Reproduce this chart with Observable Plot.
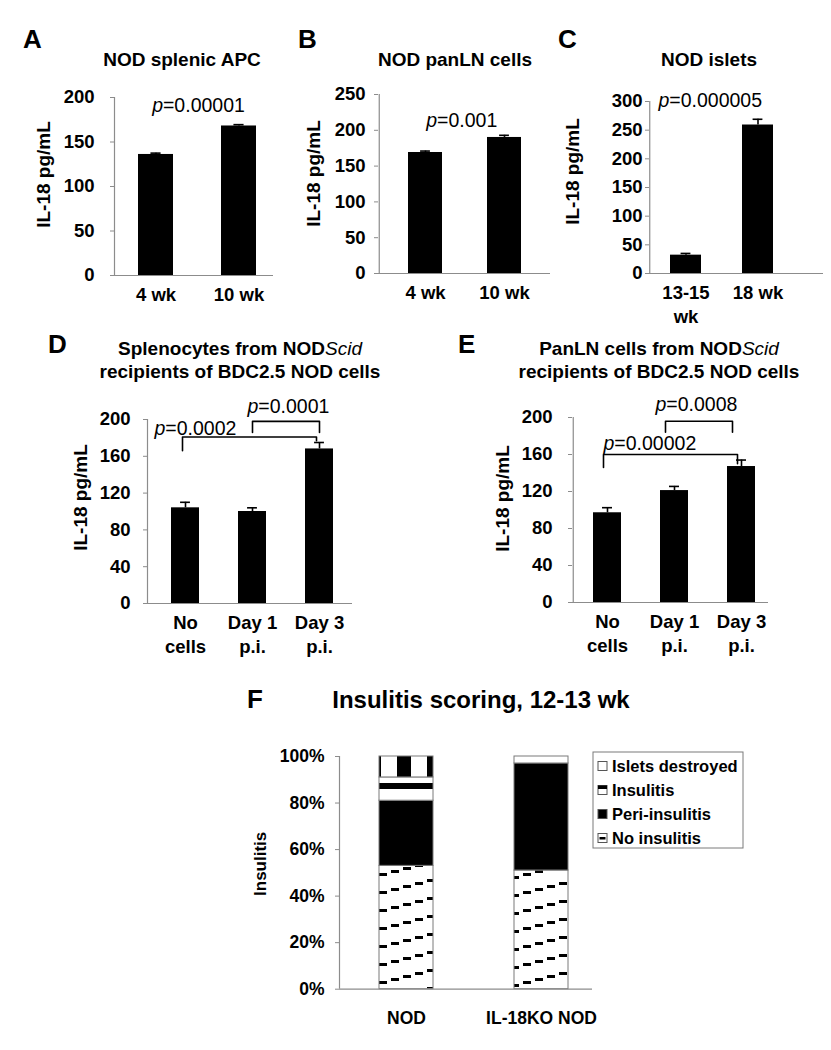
<!DOCTYPE html>
<html><head><meta charset="utf-8">
<script src="https://cdn.jsdelivr.net/npm/d3@7"></script>
<script src="https://cdn.jsdelivr.net/npm/@observablehq/plot@0.6"></script>
<style>
html,body{margin:0;padding:0;background:#fff;}
#chart{position:relative;width:831px;height:1050px;overflow:hidden;font-family:"Liberation Sans",Arial,sans-serif;}
#chart svg{position:absolute;left:0;top:0;}
</style></head><body><div id="chart"></div>
<script>
// ---------------- DATA ----------------
const catsA = ["4 wk", "10 wk"];
const valuesA = [136, 168];
const errorsA = [1.5, 1.5];
const pA = {label: "p=0.00001", y: 191};

const catsB = ["4 wk", "10 wk"];
const valuesB = [169, 190];
const errorsB = [2, 3];
const pB = {label: "p=0.001", y: 214};

const catsC = ["13-15\nwk", "18 wk"];
const valuesC = [32, 259];
const errorsC = [3, 10];
const pC = {label: "p=0.000005", y: 302};

const catsDE = ["No\ncells", "Day 1\np.i.", "Day 3\np.i."];
const valuesD = [104, 100, 168];
const errorsD = [6, 4, 7];
const bracketsD = [
  {from: "No\ncells", to: "Day 3\np.i.", level: 181, fromEnd: 166, toEnd: 177, label: "p=0.0002", labelY: 190},
  {from: "Day 1\np.i.", to: "Day 3\np.i.", level: 198, fromEnd: 186, toEnd: 186, label: "p=0.0001", labelY: 214}
];
const valuesE = [97, 121, 147];
const errorsE = [5.5, 4.5, 7];
const bracketsE = [
  {from: "No\ncells", to: "Day 3\np.i.", level: 160, fromEnd: 146, toEnd: 150, label: "p=0.00002", labelY: 172},
  {from: "Day 1\np.i.", to: "Day 3\np.i.", level: 196, fromEnd: 184, toEnd: 184, label: "p=0.0008", labelY: 214}
];

const ticks200by50 = [0, 50, 100, 150, 200];
const ticks250 = [0, 50, 100, 150, 200, 250];
const ticks300 = [0, 50, 100, 150, 200, 250, 300];
const ticks200by40 = [0, 40, 80, 120, 160, 200];

const fGroups = ["NOD", "IL-18KO NOD"];
const fSegments = ["No insulitis", "Peri-insulitis", "Insulitis", "Islets destroyed"];
const fNOD = [53, 28, 10, 9];
const fKO = [51, 46, 3, 0];
const fTicks = [0, 20, 40, 60, 80, 100];
const legendOrder = ["Islets destroyed", "Insulitis", "Peri-insulitis", "No insulitis"];

// ---------------- LAYOUT / STYLE ----------------
const W = 831, H = 1050;
const AXIS = "#8c8c8c";
const FONT = '"Liberation Sans", Arial, sans-serif';
const NS = "http://www.w3.org/2000/svg";
const chart = document.getElementById("chart");

function italicP(svg) {
  svg.querySelectorAll("text").forEach(t => {
    if (t.children.length === 0 && /^p=/.test(t.textContent)) {
      const rest = t.textContent.slice(1);
      t.textContent = "";
      const a = document.createElementNS(NS, "tspan");
      a.setAttribute("font-style", "italic");
      a.textContent = "p";
      const b = document.createElementNS(NS, "tspan");
      b.textContent = rest;
      t.append(a, b);
    }
  });
}

function barPanel(cfg) {
  const rows = cfg.cats.map((c, i) => ({cat: c, value: cfg.values[i], err: cfg.errors[i]}));
  const n = cfg.cats.length;
  const step = (cfg.xRange[1] - cfg.xRange[0]) / n;
  const bw = step * (1 - cfg.padInner);
  const firstCenter = cfg.xRange[0] + step / 2;
  const capInset = (bw - cfg.capWidth) / 2;
  const f = cfg.frame;
  const marks = [
    Plot.barY(rows, {x: "cat", y: "value", fill: "black"}),
    Plot.ruleX(rows, {x: "cat", y1: "value", y2: d => d.value + d.err, stroke: "black", strokeWidth: 1.6}),
    Plot.tickY(rows, {x: "cat", y: d => d.value + d.err, stroke: "black", strokeWidth: 1.6, insetLeft: capInset, insetRight: capInset}),
    Plot.ruleY([0], {stroke: AXIS, strokeWidth: 1.2}),
    Plot.ruleX([cfg.cats[0]], {y1: 0, y2: cfg.yMax, stroke: AXIS, strokeWidth: 1.2, dx: f.l - firstCenter}),
    Plot.axisY({ticks: cfg.yTicks, tickSize: 4, tickPadding: cfg.yTickPad, stroke: AXIS, fill: "black",
      fontSize: 18.5, fontWeight: "bold", label: null}),
    Plot.axisX({tickSize: 0, tickPadding: cfg.xTickPad, fill: "black", fontSize: 18.5,
      fontWeight: "bold", label: null, lineHeight: 1.27}),
    Plot.text([cfg.yLabel], {frameAnchor: "left", textAnchor: "middle", rotate: -90, dx: cfg.yLabelDx, dy: cfg.yLabelDy,
      fontSize: 19, fontWeight: "bold", fill: "black"})
  ];
  if (cfg.p) {
    marks.push(Plot.text([cfg.p], {x: () => cfg.cats[1], y: d => d.y, text: d => d.label,
      dx: cfg.pDx, fontSize: 19.5, fill: "black"}));
  }
  if (cfg.brackets) {
    cfg.brackets.forEach((b, i) => {
      const pts = [
        {x: b.from, y: b.fromEnd}, {x: b.from, y: b.level},
        {x: b.to, y: b.level}, {x: b.to, y: b.toEnd}
      ];
      marks.push(Plot.line(pts, {x: "x", y: "y", stroke: "black", strokeWidth: 1.6, dx: cfg.bracketDx[i]}));
      marks.push(Plot.text([b], {x: d => d.from, y: d => d.labelY, text: d => d.label, textAnchor: "start",
        dx: cfg.labelDx[i], fontSize: 19.5, fill: "black"}));
    });
  }
  const svg = Plot.plot({
    width: W, height: H,
    marginLeft: f.l, marginRight: W - f.r, marginTop: f.t, marginBottom: H - f.b,
    style: {background: "none", overflow: "visible", fontFamily: FONT, maxWidth: "none"},
    x: {domain: cfg.cats, range: cfg.xRange, paddingInner: cfg.padInner, paddingOuter: cfg.padInner / 2},
    y: {domain: [0, cfg.yMax]},
    marks
  });
  italicP(svg);
  chart.appendChild(svg);
}

barPanel({cats: catsA, values: valuesA, errors: errorsA, yMax: 200, yTicks: ticks200by50,
  frame: {l: 114, r: 273, t: 97, b: 275}, xRange: [114, 280], padInner: 0.58, capWidth: 10,
  yTickPad: 16, xTickPad: 9, yLabel: "IL-18 pg/mL", yLabelDx: -71, yLabelDy: -12, p: pA, pDx: -40.5});

barPanel({cats: catsB, values: valuesB, errors: errorsB, yMax: 250, yTicks: ticks250,
  frame: {l: 378, r: 550, t: 94, b: 273}, xRange: [384.5, 543.5], padInner: 0.57, capWidth: 10,
  yTickPad: 9, xTickPad: 9, yLabel: "IL-18 pg/mL", yLabelDx: -65, yLabelDy: -10.5, p: pB, pDx: -42.75});

barPanel({cats: catsC, values: valuesC, errors: errorsC, yMax: 300, yTicks: ticks300,
  frame: {l: 649, r: 823, t: 101, b: 273}, xRange: [649, 794], padInner: 0.57, capWidth: 10,
  yTickPad: 3, xTickPad: 9, yLabel: "IL-18 pg/mL", yLabelDx: -77, yLabelDy: -16, p: pC, pDx: -47.75});

barPanel({cats: catsDE, values: valuesD, errors: errorsD, yMax: 200, yTicks: ticks200by40,
  frame: {l: 147, r: 352, t: 419, b: 603}, xRange: [151.5, 352.5], padInner: 0.58, capWidth: 10,
  yTickPad: 13, xTickPad: 9, yLabel: "IL-18 pg/mL", yLabelDx: -67, yLabelDy: -14,
  brackets: bracketsD, bracketDx: [-3, 0], labelDx: [-31, -5]});

barPanel({cats: catsDE, values: valuesE, errors: errorsE, yMax: 200, yTicks: ticks200by40,
  frame: {l: 572, r: 768, t: 417, b: 602}, xRange: [572.5, 775], padInner: 0.585, capWidth: 10,
  yTickPad: 16, xTickPad: 9, yLabel: "IL-18 pg/mL", yLabelDx: -70, yLabelDy: -11.5,
  brackets: bracketsE, bracketDx: [-4, -9], labelDx: [-4, -19]});

// ---------------- PANEL F ----------------
const patternFor = {
  "No insulitis": "url(#pat-no)",
  "Peri-insulitis": "black",
  "Insulitis": "url(#pat-ins)",
  "Islets destroyed": "url(#pat-des)"
};
const fRows = [];
fGroups.forEach((g, gi) => {
  const vals = gi === 0 ? fNOD : fKO;
  fSegments.forEach((s, si) => fRows.push({group: g, seg: s, value: vals[si]}));
});
{
  const f = {l: 339, r: 592, t: 756, b: 988.7};
  const xRange = [338.5, 608.5];
  const step = (xRange[1] - xRange[0]) / fGroups.length;
  const firstCenter = xRange[0] + step / 2;
  const svg = Plot.plot({
    width: W, height: H,
    marginLeft: f.l, marginRight: W - f.r, marginTop: f.t, marginBottom: H - f.b,
    style: {background: "none", overflow: "visible", fontFamily: FONT, maxWidth: "none"},
    x: {domain: fGroups, range: xRange, paddingInner: 0.6, paddingOuter: 0.3},
    y: {domain: [0, 100]},
    color: {type: "identity"},
    marks: [
      Plot.barY(fRows, {x: "group", y: "value", fill: d => patternFor[d.seg], stroke: "#7a7a7a", strokeWidth: 1}),
      Plot.ruleY([0], {stroke: AXIS, strokeWidth: 1.2}),
      Plot.ruleX([fGroups[0]], {y1: 0, y2: 100, stroke: AXIS, strokeWidth: 1.2, dx: f.l - firstCenter}),
      Plot.axisY({ticks: fTicks, tickSize: 4, tickPadding: 11, stroke: AXIS, fill: "black",
        fontSize: 17.5, fontWeight: "bold", label: null, tickFormat: d => d + "%"}),
      Plot.axisX({tickSize: 0, tickPadding: 22, fill: "black", fontSize: 17.5, fontWeight: "bold", label: null}),
      Plot.text(["Insulitis"], {frameAnchor: "left", textAnchor: "middle", rotate: -90, dx: -79, dy: -9,
        fontSize: 17, fontWeight: "bold", fill: "black"})
    ]
  });
  chart.appendChild(svg);
}

// ---------------- OVERLAY: letters, titles, legend, patterns ----------------
const ov = d3.select(chart).append("svg").attr("width", W).attr("height", H)
  .attr("font-family", FONT).style("overflow", "visible");
const defs = ov.append("defs");
// No insulitis: staircase of short dashes rising to the right
const pn = defs.append("pattern").attr("id", "pat-no").attr("patternUnits", "userSpaceOnUse")
  .attr("x", 379).attr("width", 72).attr("height", 18);
pn.append("rect").attr("width", 72).attr("height", 18).attr("fill", "white");
for (let k = 0; k < 6; k++) {
  const y = ((9 - 3 * k) % 18 + 18) % 18;
  pn.append("rect").attr("x", 12 * k).attr("y", y).attr("width", 8).attr("height", 3).attr("fill", "black");
}
// Insulitis: horizontal stripes
const pi = defs.append("pattern").attr("id", "pat-ins").attr("patternUnits", "userSpaceOnUse")
  .attr("width", 10).attr("height", 18);
pi.append("rect").attr("width", 10).attr("height", 18).attr("fill", "white");
pi.append("rect").attr("y", 9).attr("width", 10).attr("height", 6).attr("fill", "black");
// Islets destroyed: vertical stripes
const pd = defs.append("pattern").attr("id", "pat-des").attr("patternUnits", "userSpaceOnUse")
  .attr("x", 397).attr("width", 30).attr("height", 10);
pd.append("rect").attr("width", 30).attr("height", 10).attr("fill", "white");
pd.append("rect").attr("width", 14).attr("height", 10).attr("fill", "black");

const letters = [
  {t: "A", x: 23, y: 48}, {t: "B", x: 298, y: 48}, {t: "C", x: 558, y: 48},
  {t: "D", x: 48, y: 353}, {t: "E", x: 458, y: 353}, {t: "F", x: 247, y: 708}
];
letters.forEach(l => ov.append("text").attr("x", l.x).attr("y", l.y).attr("font-size", 26)
  .attr("font-weight", "bold").text(l.t));

const titles = [
  {t: "NOD splenic APC", x: 182, y: 66}, {t: "NOD panLN cells", x: 455, y: 66}, {t: "NOD islets", x: 709, y: 66}
];
titles.forEach(d => ov.append("text").attr("x", d.x).attr("y", d.y).attr("font-size", 19)
  .attr("font-weight", "bold").attr("text-anchor", "middle").text(d.t));

function twoLineTitle(first, x) {
  const t1 = ov.append("text").attr("x", x).attr("y", 355).attr("font-size", 19)
    .attr("font-weight", "bold").attr("text-anchor", "middle");
  t1.append("tspan").text(first + "NOD");
  t1.append("tspan").attr("font-style", "italic").attr("font-weight", "normal").text("Scid");
  ov.append("text").attr("x", x).attr("y", 378).attr("font-size", 19)
    .attr("font-weight", "bold").attr("text-anchor", "middle").text("recipients of BDC2.5 NOD cells");
}
twoLineTitle("Splenocytes from ", 240);
twoLineTitle("PanLN cells from ", 659);

ov.append("text").attr("x", 481).attr("y", 708).attr("font-size", 24).attr("font-weight", "bold")
  .attr("text-anchor", "middle").text("Insulitis scoring, 12-13 wk");

// legend
ov.append("rect").attr("x", 593).attr("y", 752).attr("width", 150).attr("height", 96)
  .attr("fill", "white").attr("stroke", "#7a7a7a").attr("stroke-width", 1);
legendOrder.forEach((name, i) => {
  const cy = 766 + i * 24;
  const g = ov.append("g").attr("transform", `translate(598,${cy - 4.5})`);
  if (name === "Peri-insulitis") {
    g.append("rect").attr("width", 9).attr("height", 9).attr("fill", "black").attr("stroke", "#555");
  } else {
    g.append("rect").attr("width", 9).attr("height", 9).attr("fill", "white").attr("stroke", "#555");
    if (name === "Insulitis") g.append("rect").attr("width", 9).attr("height", 3.5).attr("fill", "black");
    if (name === "No insulitis") g.append("rect").attr("x", 1.5).attr("y", 3.5).attr("width", 6).attr("height", 2.5).attr("fill", "black");
  }
  ov.append("text").attr("x", 612).attr("y", cy + 6).attr("font-size", 16.5).attr("font-weight", "bold").text(name);
});
</script></body></html>
